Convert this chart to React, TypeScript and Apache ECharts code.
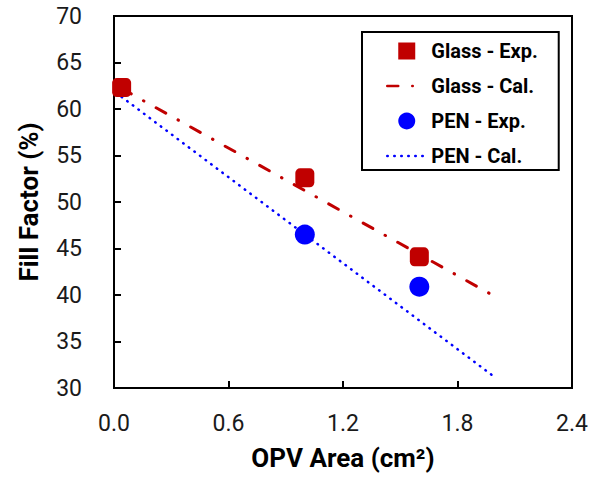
import React, { useEffect, useRef } from "react";
import * as echarts from "echarts";

const glassExpX = [0.04, 1.0, 1.6];
const glassExpY = [62.3, 52.6, 44.1];
const penExpX = [1.0, 1.6];
const penExpY = [46.5, 40.9];
const glassCalX = [0.04, 2.0];
const glassCalY = [62.2, 39.8];
const penCalX = [0.04, 1.98];
const penCalY = [61.3, 31.4];

const RED = "#C00000";
const BLUE = "#0000FF";
const FONT = "Roboto";

const zip = (xs: number[], ys: number[]) => xs.map((x, i) => [x, ys[i]]);

export default function App() {
  const ref = useRef<HTMLDivElement>(null);
  useEffect(() => {
    if (!ref.current) return;
    const chart = echarts.init(ref.current, null, { renderer: "svg" });
    chart.setOption({
      animation: false,
      backgroundColor: "#fff",
      grid: {
        left: 114,
        right: 26,
        top: 16,
        bottom: 89,
        show: true,
        borderColor: "#000",
        borderWidth: 2,
      },
      legend: {
        orient: "vertical",
        left: 362,
        top: 32,
        padding: [9, 21, 4, 24],
        itemWidth: 39,
        itemHeight: 17,
        itemGap: 15,
        symbolKeepAspect: true,
        borderColor: "#000",
        borderWidth: 2,
        backgroundColor: "#fff",
        textStyle: { fontFamily: FONT, fontWeight: "bold", fontSize: 20, color: "#000", lineHeight: 17 },
        lineStyle: { width: 2.5 },
        data: [
          { name: "Glass - Exp.", icon: "path://M0,0L10,0L10,10L0,10Z" },
          { name: "Glass - Cal.", itemStyle: { opacity: 0 } },
          { name: "PEN - Exp.", icon: "circle" },
          { name: "PEN - Cal.", itemStyle: { opacity: 0 } },
        ],
      },
      xAxis: {
        type: "value",
        min: 0,
        max: 2.4,
        interval: 0.6,
        name: "OPV Area (cm²)",
        nameLocation: "middle",
        nameGap: 57,
        nameTextStyle: { fontFamily: FONT, fontWeight: "bold", fontSize: 26, color: "#000" },
        axisLine: { show: true, lineStyle: { color: "#000", width: 2 } },
        axisTick: { show: true, inside: true, length: 7, lineStyle: { color: "#000", width: 2 } },
        axisLabel: {
          margin: 24,
          fontFamily: FONT,
          fontSize: 23,
          color: "#1a1a1a",
          formatter: (v: number) => v.toFixed(1),
        },
        splitLine: { show: false },
      },
      yAxis: {
        type: "value",
        min: 30,
        max: 70,
        interval: 5,
        name: "Fill Factor (%)",
        nameLocation: "middle",
        nameGap: 72,
        nameRotate: 90,
        nameTextStyle: { fontFamily: FONT, fontWeight: "bold", fontSize: 26, color: "#000" },
        axisLine: { show: true, lineStyle: { color: "#000", width: 2 } },
        axisTick: { show: true, inside: true, length: 7, lineStyle: { color: "#000", width: 2 } },
        axisLabel: { margin: 32, fontFamily: FONT, fontSize: 23, color: "#1a1a1a" },
        splitLine: { show: false },
      },
      series: [
        {
          name: "Glass - Exp.",
          type: "scatter",
          symbol: "roundRect",
          symbolSize: 19,
          itemStyle: { color: RED, opacity: 1 },
          z: 5,
          data: zip(glassExpX, glassExpY),
        },
        {
          name: "Glass - Cal.",
          type: "line",
          symbol: "none",
          lineStyle: { color: RED, width: 3, type: [11, 14, 0.5, 14], cap: "round" },
          itemStyle: { color: RED },
          z: 2,
          data: zip(glassCalX, glassCalY),
        },
        {
          name: "PEN - Exp.",
          type: "scatter",
          symbol: "circle",
          symbolSize: 20,
          itemStyle: { color: BLUE, opacity: 1 },
          z: 4,
          data: zip(penExpX, penExpY),
        },
        {
          name: "PEN - Cal.",
          type: "line",
          symbol: "none",
          lineStyle: { color: BLUE, width: 2.5, type: [0.5, 6.5], cap: "round" },
          itemStyle: { color: BLUE },
          z: 2,
          data: zip(penCalX, penCalY),
        },
      ],
    });
    return () => chart.dispose();
  }, []);
  return <div ref={ref} style={{ width: 598, height: 477, position: "absolute", left: 0, top: 0 }} />;
}
